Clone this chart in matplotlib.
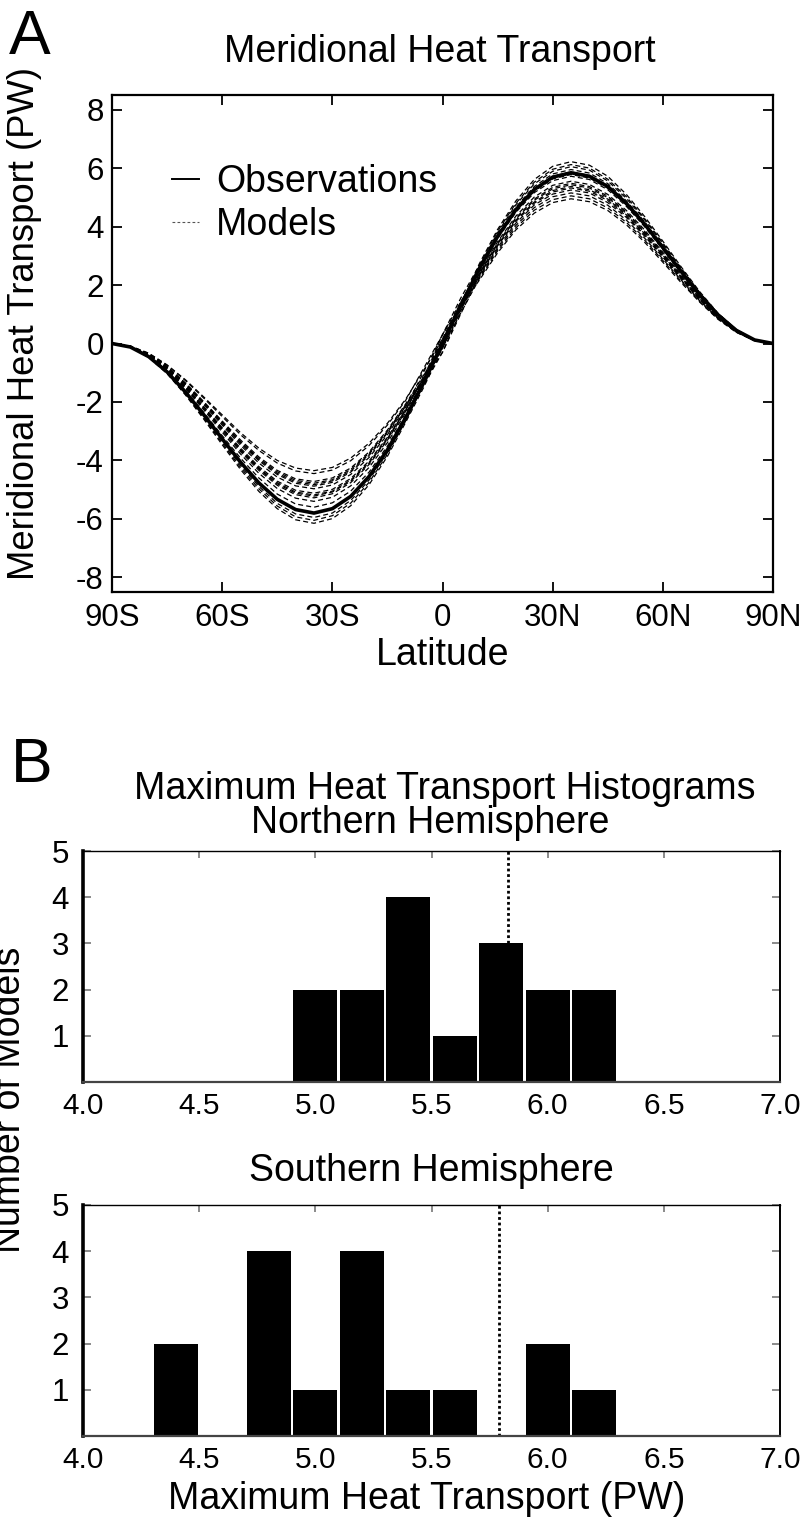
import matplotlib
matplotlib.use("Agg")
import matplotlib.pyplot as plt
from matplotlib.lines import Line2D

plt.rcParams['font.family'] = ['Liberation Sans', 'DejaVu Sans']
plt.rcParams['axes.unicode_minus'] = False

# ---------------- data ----------------
lat = [-90, -85, -80, -75, -70, -65, -60, -55, -50, -45, -40, -35, -30, -25, -20, -15, -10, -5,
       0, 5, 10, 15, 20, 25, 30, 35, 40, 45, 50, 55, 60, 65, 70, 75, 80, 85, 90]

observations = [0, -0.12, -0.45, -0.97, -1.66, -2.44, -3.26, -4.06, -4.77, -5.33, -5.68, -5.80, -5.65, -5.23, -4.55, -3.64, -2.53, -1.31,
                0,
                1.31, 2.55, 3.66, 4.58, 5.27, 5.69, 5.84, 5.72, 5.37, 4.80, 4.09, 3.28, 2.46, 1.67, 0.98, 0.45, 0.12, 0]

model_01 = [0, -0.09, -0.34, -0.75, -1.27, -1.87, -2.50, -3.12, -3.66, -4.09, -4.36, -4.45, -4.33, -4.01, -3.49, -2.79, -1.94, -0.82,
            0.30,
            1.29, 2.16, 3.10, 3.89, 4.46, 4.82, 4.95, 4.85, 4.55, 4.07, 3.47, 2.78, 2.08, 1.42, 0.83, 0.38, 0.10, 0]
model_02 = [0, -0.10, -0.37, -0.80, -1.37, -2.01, -2.69, -3.35, -3.93, -4.39, -4.68, -4.78, -4.66, -4.31, -3.75, -3.00, -2.09, -1.17,
            -0.15,
            1.05, 2.21, 3.17, 3.96, 4.56, 4.92, 5.05, 4.95, 4.64, 4.15, 3.54, 2.84, 2.13, 1.44, 0.85, 0.39, 0.10, 0]
model_03 = [0, -0.09, -0.33, -0.73, -1.24, -1.83, -2.44, -3.05, -3.58, -4.00, -4.26, -4.35, -4.24, -3.92, -3.41, -2.73, -1.90, -0.89,
            0.15,
            1.25, 2.25, 3.23, 4.04, 4.65, 5.02, 5.15, 5.05, 4.73, 4.23, 3.61, 2.89, 2.17, 1.47, 0.87, 0.40, 0.10, 0]
model_04 = [0, -0.10, -0.39, -0.86, -1.46, -2.16, -2.88, -3.58, -4.21, -4.71, -5.02, -5.12, -4.99, -4.62, -4.02, -3.21, -2.24, -1.15,
            0,
            1.18, 2.29, 3.29, 4.12, 4.74, 5.11, 5.25, 5.15, 4.82, 4.32, 3.68, 2.95, 2.21, 1.50, 0.88, 0.40, 0.11, 0]
model_05 = [0, -0.10, -0.37, -0.81, -1.38, -2.03, -2.71, -3.38, -3.97, -4.44, -4.73, -4.83, -4.70, -4.36, -3.79, -3.03, -2.11, -1.27,
            -0.30,
            1.02, 2.32, 3.34, 4.18, 4.80, 5.18, 5.32, 5.21, 4.89, 4.37, 3.72, 2.99, 2.24, 1.52, 0.89, 0.41, 0.11, 0]
model_06 = [0, -0.10, -0.40, -0.88, -1.49, -2.20, -2.93, -3.65, -4.29, -4.80, -5.12, -5.22, -5.08, -4.71, -4.10, -3.27, -2.28, -1.08,
            0.15,
            1.30, 2.35, 3.37, 4.22, 4.84, 5.23, 5.37, 5.26, 4.94, 4.41, 3.76, 3.02, 2.26, 1.54, 0.90, 0.41, 0.11, 0]
model_07 = [0, -0.09, -0.36, -0.79, -1.35, -1.99, -2.65, -3.30, -3.88, -4.34, -4.63, -4.72, -4.60, -4.26, -3.71, -2.96, -2.06, -1.06,
            0,
            1.22, 2.37, 3.40, 4.26, 4.90, 5.29, 5.43, 5.32, 4.99, 4.46, 3.80, 3.05, 2.29, 1.55, 0.91, 0.42, 0.11, 0]
model_08 = [0, -0.11, -0.41, -0.89, -1.51, -2.22, -2.97, -3.70, -4.34, -4.85, -5.17, -5.28, -5.14, -4.76, -4.14, -3.31, -2.31, -1.28,
            -0.15,
            1.14, 2.39, 3.44, 4.30, 4.94, 5.34, 5.48, 5.37, 5.04, 4.50, 3.84, 3.08, 2.31, 1.57, 0.92, 0.42, 0.11, 0]
model_09 = [0, -0.10, -0.38, -0.83, -1.42, -2.09, -2.79, -3.48, -4.09, -4.57, -4.87, -4.97, -4.84, -4.48, -3.90, -3.12, -2.17, -0.94,
            0.30,
            1.43, 2.43, 3.48, 4.36, 5.01, 5.41, 5.55, 5.44, 5.10, 4.56, 3.89, 3.12, 2.34, 1.59, 0.93, 0.43, 0.11, 0]
model_10 = [0, -0.10, -0.40, -0.87, -1.48, -2.18, -2.91, -3.63, -4.26, -4.76, -5.08, -5.18, -5.05, -4.67, -4.07, -3.25, -2.26, -1.17,
            0,
            1.29, 2.50, 3.59, 4.49, 5.16, 5.57, 5.72, 5.61, 5.26, 4.70, 4.00, 3.21, 2.41, 1.64, 0.96, 0.44, 0.11, 0]
model_11 = [0, -0.11, -0.42, -0.91, -1.54, -2.27, -3.03, -3.78, -4.44, -4.96, -5.29, -5.40, -5.26, -4.87, -4.24, -3.39, -2.36, -1.40,
            -0.30,
            1.12, 2.53, 3.62, 4.54, 5.21, 5.63, 5.78, 5.66, 5.31, 4.75, 4.05, 3.25, 2.43, 1.65, 0.97, 0.45, 0.12, 0]
model_12 = [0, -0.11, -0.43, -0.94, -1.60, -2.36, -3.15, -3.92, -4.60, -5.15, -5.49, -5.60, -5.45, -5.05, -4.40, -3.51, -2.45, -1.17,
            0.15,
            1.41, 2.57, 3.68, 4.61, 5.29, 5.72, 5.87, 5.75, 5.39, 4.83, 4.11, 3.30, 2.47, 1.68, 0.99, 0.45, 0.12, 0]
model_13 = [0, -0.10, -0.38, -0.82, -1.40, -2.05, -2.74, -3.42, -4.01, -4.48, -4.78, -4.88, -4.75, -4.40, -3.83, -3.06, -2.13, -1.19,
            -0.15,
            1.25, 2.60, 3.73, 4.67, 5.37, 5.80, 5.95, 5.83, 5.47, 4.89, 4.17, 3.34, 2.50, 1.70, 1.00, 0.46, 0.12, 0]
model_14 = [0, -0.12, -0.47, -1.02, -1.73, -2.55, -3.40, -4.24, -4.97, -5.56, -5.93, -6.05, -5.89, -5.46, -4.75, -3.79, -2.64, -1.36,
            0,
            1.36, 2.64, 3.79, 4.75, 5.46, 5.89, 6.05, 5.93, 5.56, 4.97, 4.24, 3.40, 2.55, 1.73, 1.02, 0.47, 0.12, 0]
model_15 = [0, -0.12, -0.46, -1.00, -1.70, -2.50, -3.34, -4.17, -4.89, -5.47, -5.83, -5.95, -5.80, -5.37, -4.67, -3.73, -2.60, -1.16,
            0.30,
            1.56, 2.67, 3.84, 4.80, 5.52, 5.96, 6.12, 6.00, 5.62, 5.03, 4.28, 3.44, 2.58, 1.75, 1.03, 0.47, 0.12, 0]
model_16 = [0, -0.12, -0.47, -1.03, -1.76, -2.59, -3.46, -4.31, -5.06, -5.65, -6.03, -6.15, -5.99, -5.55, -4.83, -3.86, -2.69, -1.47,
            -0.15,
            1.31, 2.72, 3.90, 4.88, 5.61, 6.06, 6.22, 6.10, 5.72, 5.11, 4.35, 3.50, 2.62, 1.78, 1.04, 0.48, 0.12, 0]

models = [model_01, model_02, model_03, model_04, model_05, model_06, model_07, model_08,
          model_09, model_10, model_11, model_12, model_13, model_14, model_15, model_16]

lat_ticks = [-90, -60, -30, 0, 30, 60, 90]
lat_labels = ['90S', '60S', '30S', '0', '30N', '60N', '90N']
mht_ticks = [-8, -6, -4, -2, 0, 2, 4, 6, 8]

nh_bins = [5.0, 5.2, 5.4, 5.6, 5.8, 6.0, 6.2]
nh_counts = [2, 2, 4, 1, 3, 2, 2]
sh_bins = [4.4, 4.8, 5.0, 5.2, 5.4, 5.6, 6.0, 6.2]
sh_counts = [2, 4, 1, 4, 1, 1, 2, 1]
obs_nh_max = 5.83
obs_sh_max = 5.79

hist_xticks = [4.0, 4.5, 5.0, 5.5, 6.0, 6.5, 7.0]
hist_xlabels = ['4.0', '4.5', '5.0', '5.5', '6.0', '6.5', '7.0']
hist_yticks = [1, 2, 3, 4, 5]

# ---------------- layout helpers ----------------
W, H = 806, 1520
fig = plt.figure(figsize=(W / 100, H / 100), dpi=100)


def fx(px):
    return px / W


def fy(py):
    return 1 - py / H


def axes_px(left, top, right, bottom):
    return fig.add_axes([fx(left), fy(bottom), (right - left) / W, (bottom - top) / H])


# ---------------- panel A ----------------
ax1 = axes_px(112, 95, 773, 592)
for m in models:
    ax1.plot(lat, m, color='black', lw=0.9, linestyle=(0, (4.0, 2.5)))
ax1.plot(lat, observations, color='black', lw=2.6, solid_capstyle='round')
ax1.set_xlim(-90, 90)
ax1.set_ylim(-8.5, 8.5)
ax1.set_xticks(lat_ticks)
ax1.set_xticklabels(lat_labels)
ax1.set_yticks(mht_ticks)
ax1.set_yticklabels([str(v) for v in mht_ticks])
ax1.tick_params(direction='in', top=True, right=True, length=7, width=1.3,
                labelsize=22.5, colors='black')
ax1.tick_params(axis='x', pad=8)
ax1.tick_params(axis='y', pad=6)
for sp in ax1.spines.values():
    sp.set_linewidth(1.6)

handles = [Line2D([], [], color='black', lw=1.4),
           Line2D([], [], color='#555555', lw=0.8, linestyle=(0, (2.5, 2)))]
ax1.legend(handles, ['Observations', 'Models'], loc='upper left',
           bbox_to_anchor=(fx(172), fy(164)), bbox_transform=fig.transFigure,
           frameon=False, fontsize=27, handlelength=0.72, handletextpad=0.45,
           borderpad=0, borderaxespad=0, labelspacing=0.18)

fig.text(fx(9), fy(54), 'A', fontsize=45, ha='left', va='baseline')
fig.text(fx(440), fy(62), 'Meridional Heat Transport', fontsize=27, ha='center', va='baseline')
fig.text(fx(443), fy(665), 'Latitude', fontsize=27, ha='center', va='baseline')
fig.text(fx(25), fy(324), 'Meridional Heat Transport (PW)', fontsize=26.3, rotation=90,
         ha='center', va='center')

# ---------------- panel B ----------------
ax2 = axes_px(83, 851, 780, 1082)
ax3 = axes_px(83, 1205, 780, 1436)

for ax, bins, counts, obs in ((ax2, nh_bins, nh_counts, obs_nh_max),
                              (ax3, sh_bins, sh_counts, obs_sh_max)):
    ax.axvline(obs, color='black', lw=2.0, linestyle=(0, (1, 1)), zorder=1)
    ax.bar(bins, counts, width=0.19, color='black', edgecolor='none', zorder=2)
    ax.set_xlim(4.0, 7.0)
    ax.set_ylim(0, 5)
    ax.set_xticks(hist_xticks)
    ax.set_xticklabels(hist_xlabels)
    ax.set_yticks(hist_yticks)
    ax.set_yticklabels([str(v) for v in hist_yticks])
    ax.tick_params(axis='y', direction='in', left=True, right=True, length=6, width=1.2,
                   color='#777777', labelcolor='black', labelsize=22.5, pad=10)
    ax.tick_params(axis='x', direction='in', top=True, bottom=False, length=5, width=1.2,
                   color='#777777', labelcolor='black', labelsize=21.5, pad=7)
    ax.spines['left'].set_linewidth(2.6)
    ax.spines['top'].set_linewidth(1.0)
    ax.spines['right'].set_linewidth(1.4)
    ax.spines['bottom'].set_linewidth(1.6)
    ax.spines['bottom'].set_color('#444444')

fig.text(fx(11), fy(782), 'B', fontsize=45, ha='left', va='baseline')
fig.text(fx(445), fy(799), 'Maximum Heat Transport Histograms', fontsize=27,
         ha='center', va='baseline')
fig.text(fx(430), fy(833), 'Northern Hemisphere', fontsize=27, ha='center', va='baseline')
fig.text(fx(431), fy(1181), 'Southern Hemisphere', fontsize=27, ha='center', va='baseline')
fig.text(fx(427), fy(1509), 'Maximum Heat Transport (PW)', fontsize=27, ha='center',
         va='baseline')
fig.text(fx(10), fy(1100), 'Number of Models', fontsize=27, rotation=90,
         ha='center', va='center')

fig.savefig('out.png', dpi=100, facecolor='white')
